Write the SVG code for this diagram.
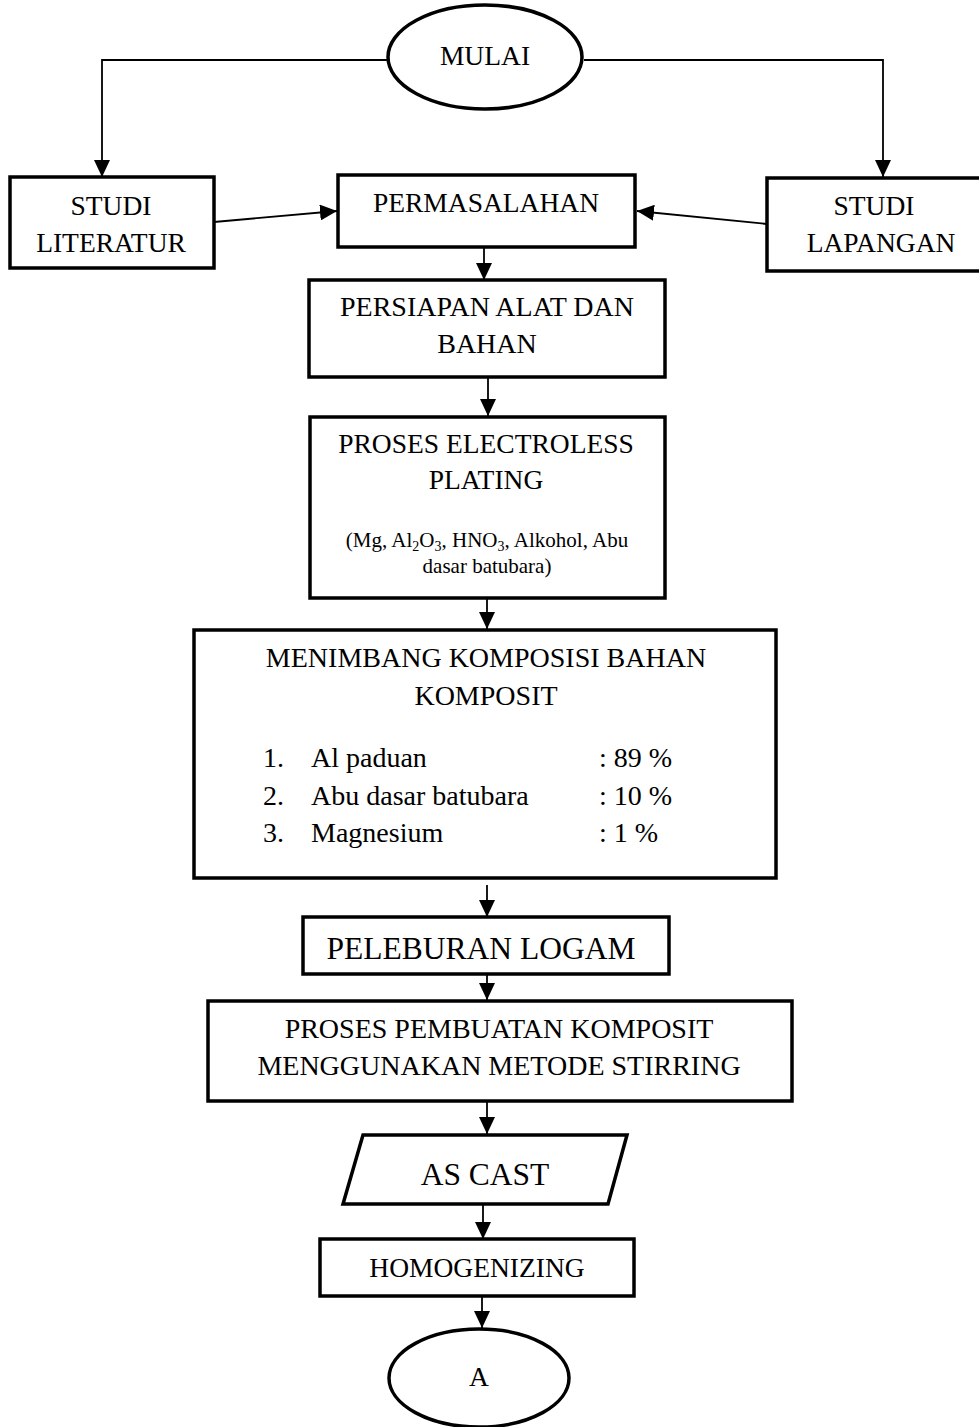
<svg xmlns="http://www.w3.org/2000/svg" width="979" height="1427" viewBox="0 0 979 1427">
<style>
.box{fill:#fff;stroke:#000;stroke-width:3.5}
.conn{fill:none;stroke:#000;stroke-width:1.8}
text{font-family:"Liberation Serif","Times New Roman",serif;fill:#000;text-anchor:middle;font-size:27.5px}
.m{font-size:28px}
.big{font-size:31.5px}
.small{font-size:21px}
.sub{font-size:14px}
.left{text-anchor:start}
</style>
<defs>
<marker id="arr" markerUnits="userSpaceOnUse" markerWidth="17" markerHeight="16" refX="17" refY="8" orient="auto">
<path d="M0,0 L17,8 L0,16 Z" fill="#000"/>
</marker>
</defs>
<rect width="979" height="1427" fill="#fff"/>
<g id="connectors">
<polyline class="conn" points="387,60 102,60 102,177" marker-end="url(#arr)"/>
<polyline class="conn" points="584,60 883,60 883,177" marker-end="url(#arr)"/>
<line class="conn" x1="214" y1="222" x2="337" y2="211" marker-end="url(#arr)"/>
<line class="conn" x1="767" y1="224" x2="637" y2="211" marker-end="url(#arr)"/>
<line class="conn" x1="484" y1="248" x2="484" y2="280" marker-end="url(#arr)"/>
<line class="conn" x1="488" y1="378" x2="488" y2="416" marker-end="url(#arr)"/>
<line class="conn" x1="487" y1="599" x2="487" y2="629" marker-end="url(#arr)"/>
<line class="conn" x1="487" y1="885" x2="487" y2="917" marker-end="url(#arr)"/>
<line class="conn" x1="487" y1="971" x2="487" y2="1000" marker-end="url(#arr)"/>
<line class="conn" x1="487" y1="1102" x2="487" y2="1134" marker-end="url(#arr)"/>
<line class="conn" x1="483" y1="1205" x2="483" y2="1239" marker-end="url(#arr)"/>
<line class="conn" x1="482" y1="1297" x2="482" y2="1328" marker-end="url(#arr)"/>
</g>
<g id="mulai">
<ellipse class="box" cx="485" cy="57" rx="97" ry="52" stroke-width="3"/>
<text x="485" y="65">MULAI</text>
</g>
<g id="studi-literatur">
<rect class="box" x="10" y="177" width="204" height="91"/>
<text x="111" y="215">STUDI</text>
<text x="111" y="252">LITERATUR</text>
</g>
<g id="permasalahan">
<rect class="box" x="338" y="175" width="297" height="72"/>
<text x="486" y="212">PERMASALAHAN</text>
</g>
<g id="studi-lapangan">
<rect class="box" x="767" y="178" width="216" height="93"/>
<text x="874" y="215">STUDI</text>
<text x="881" y="252">LAPANGAN</text>
</g>
<g id="persiapan">
<rect class="box" x="309" y="280" width="356" height="97"/>
<text class="m" x="487" y="316">PERSIAPAN ALAT DAN</text>
<text class="m" x="487" y="353">BAHAN</text>
</g>
<g id="electroless">
<rect class="box" x="310" y="417" width="355" height="181"/>
<text x="486" y="453">PROSES ELECTROLESS</text>
<text x="486" y="489">PLATING</text>
<text class="small" x="487" y="547">(Mg, Al<tspan class="sub" dy="4">2</tspan><tspan dy="-4">O</tspan><tspan class="sub" dy="4">3</tspan><tspan dy="-4">, HNO</tspan><tspan class="sub" dy="4">3</tspan><tspan dy="-4">, Alkohol, Abu</tspan></text>
<text class="small" x="487" y="573">dasar batubara)</text>
</g>
<g id="menimbang">
<rect class="box" x="194" y="630" width="582" height="248"/>
<text class="m" x="486" y="667">MENIMBANG KOMPOSISI BAHAN</text>
<text class="m" x="486" y="705">KOMPOSIT</text>
<text class="left m" x="263" y="767">1.</text>
<text class="left m" x="311" y="767">Al paduan</text>
<text class="left m" x="599" y="767">: 89 %</text>
<text class="left m" x="263" y="805">2.</text>
<text class="left m" x="311" y="805">Abu dasar batubara</text>
<text class="left m" x="599" y="805">: 10 %</text>
<text class="left m" x="263" y="842">3.</text>
<text class="left m" x="311" y="842">Magnesium</text>
<text class="left m" x="599" y="842">: 1 %</text>
</g>
<g id="peleburan">
<rect class="box" x="303" y="917" width="366" height="57"/>
<text class="big" x="481" y="959">PELEBURAN LOGAM</text>
</g>
<g id="pembuatan">
<rect class="box" x="208" y="1001" width="584" height="100"/>
<text class="m" x="499" y="1038">PROSES PEMBUATAN KOMPOSIT</text>
<text class="m" x="499" y="1075">MENGGUNAKAN METODE STIRRING</text>
</g>
<g id="as-cast">
<polygon class="box" points="363,1135 627,1135 608,1204 343,1204"/>
<text class="big" x="485" y="1185">AS CAST</text>
</g>
<g id="homogenizing">
<rect class="box" x="320" y="1239" width="314" height="57"/>
<text x="477" y="1277">HOMOGENIZING</text>
</g>
<g id="a">
<ellipse class="box" cx="479" cy="1378" rx="90" ry="49" stroke-width="3"/>
<text x="479" y="1386">A</text>
</g>
</svg>
